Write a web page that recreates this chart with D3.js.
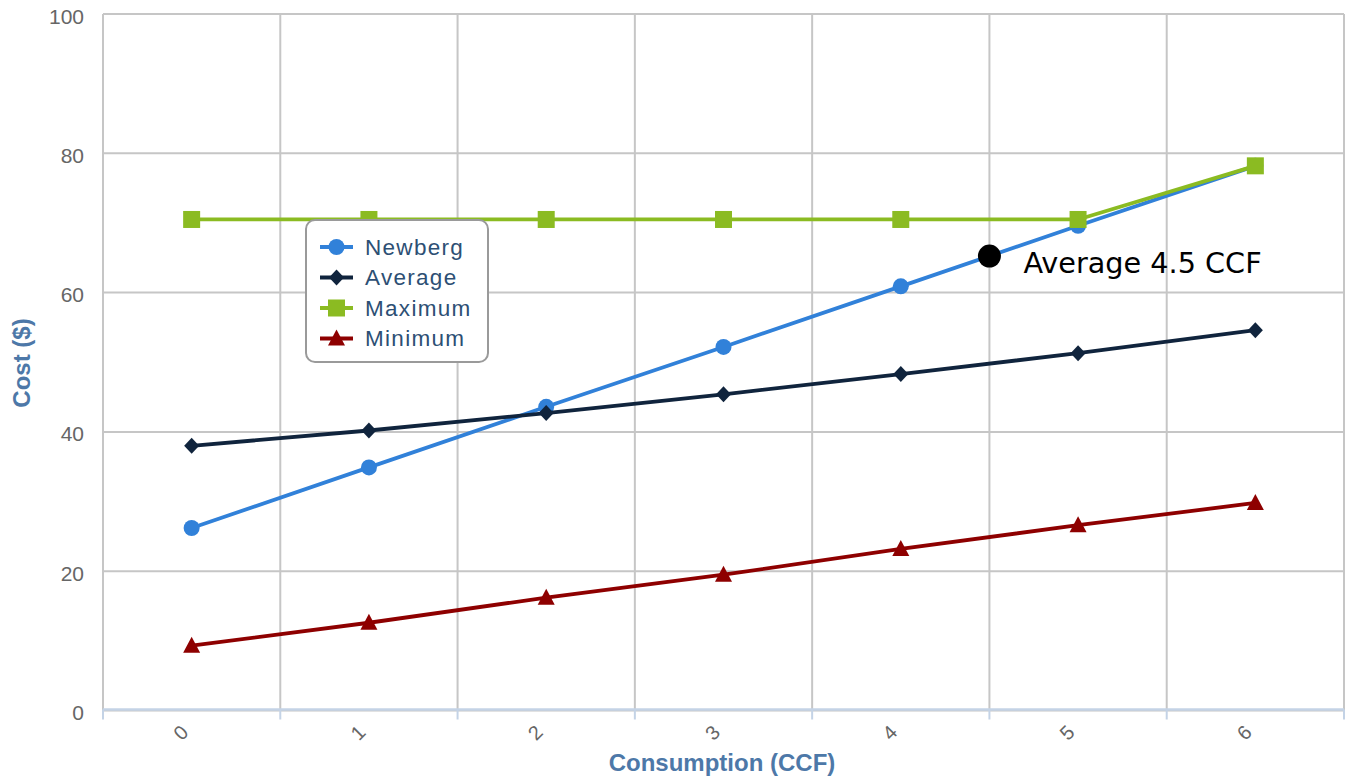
<!DOCTYPE html>
<html>
<head>
<meta charset="utf-8">
<script src="https://cdn.jsdelivr.net/npm/d3@7"></script>
<style>
  html, body { margin: 0; padding: 0; background: #fff; }
  svg { display: block; }
</style>
</head>
<body>
<svg id="chart" width="1350" height="780"></svg>
<script>
// Monthly water bill by consumption (hundreds of cubic feet)
const consumption = [0, 1, 2, 3, 4, 5, 6];
const newberg = [26.2, 34.9, 43.6, 52.2, 60.9, 69.6, 78.2];
const average = [38.0, 40.2, 42.7, 45.4, 48.3, 51.3, 54.6];
const maximum = [70.5, 70.5, 70.5, 70.5, 70.5, 70.5, 78.2];
const minimum = [9.3, 12.6, 16.2, 19.5, 23.2, 26.6, 29.8];
const yTicks = [0, 20, 40, 60, 80, 100];
const seriesNames = ["Newberg", "Average", "Maximum", "Minimum"];
const seriesColors = ["#3181d9", "#10243d", "#8bbb22", "#8e0000"];
const seriesShapes = ["circle", "diamond", "square", "triangle"];
const avgUsage = 4.5;
const avgUsageLabel = "Average 4.5 CCF";

const svg = d3.select("#chart");
const plotLeft = 103, plotRight = 1344, plotTop = 14, plotBottom = 710.5;

const x = d3.scaleLinear().domain([-0.5, 6.5]).range([plotLeft, plotRight]);
const y = d3.scaleLinear().domain([0, 100]).range([plotBottom, plotTop]);

// grid
const grid = svg.append("g").attr("stroke", "#c6c6c6").attr("stroke-width", 2);
yTicks.forEach(t => {
  grid.append("line").attr("x1", plotLeft).attr("x2", plotRight).attr("y1", y(t)).attr("y2", y(t));
});
d3.range(-0.5, 7, 1).forEach(b => {
  grid.append("line").attr("x1", x(b)).attr("x2", x(b)).attr("y1", plotTop).attr("y2", plotBottom);
});

// bottom axis: ticks at band edges, labels at band centres
const xAxis = svg.append("g");
xAxis.append("line").attr("x1", plotLeft).attr("x2", plotRight)
  .attr("y1", plotBottom - 1).attr("y2", plotBottom - 1)
  .attr("stroke", "#c4d3e6").attr("stroke-width", 2.5);
d3.range(-0.5, 7, 1).forEach(b => {
  xAxis.append("line").attr("x1", x(b)).attr("x2", x(b))
    .attr("y1", plotBottom - 1).attr("y2", plotBottom + 9)
    .attr("stroke", "#c4d3e6").attr("stroke-width", 2);
});
xAxis.selectAll("text.xt").data(consumption).enter().append("text")
  .attr("class", "xt")
  .attr("transform", d => `translate(${x(d) - 11},${plotBottom + 22}) rotate(-45)`)
  .attr("text-anchor", "middle")
  .attr("dominant-baseline", "central")
  .attr("font-family", "Liberation Sans, Arial, sans-serif")
  .attr("font-size", 20)
  .attr("fill", "#666")
  .text(d => d);

// left axis labels
svg.append("g").selectAll("text").data(yTicks).enter().append("text")
  .attr("x", 84).attr("y", d => y(d) + 2)
  .attr("text-anchor", "end")
  .attr("dominant-baseline", "central")
  .attr("font-family", "Liberation Sans, Arial, sans-serif")
  .attr("font-size", 21)
  .attr("fill", "#666")
  .text(d => d);

// axis titles
svg.append("text")
  .attr("x", 722).attr("y", 771)
  .attr("text-anchor", "middle")
  .attr("font-family", "Liberation Sans, Arial, sans-serif")
  .attr("font-weight", "bold").attr("font-size", 24)
  .attr("fill", "#4d78a8")
  .text("Consumption (CCF)");
svg.append("text")
  .attr("transform", "translate(30,363) rotate(-90)")
  .attr("text-anchor", "middle")
  .attr("font-family", "Liberation Sans, Arial, sans-serif")
  .attr("font-weight", "bold").attr("font-size", 24)
  .attr("fill", "#4d78a8")
  .text("Cost ($)");

// markers
function drawMarker(g, shape, cx, cy, color) {
  if (shape === "circle") {
    g.append("circle").attr("cx", cx).attr("cy", cy).attr("r", 8).attr("fill", color);
  } else if (shape === "diamond") {
    g.append("path").attr("d", `M${cx},${cy - 8}L${cx + 7.5},${cy}L${cx},${cy + 8}L${cx - 7.5},${cy}Z`).attr("fill", color);
  } else if (shape === "square") {
    g.append("rect").attr("x", cx - 8.5).attr("y", cy - 8.5).attr("width", 17).attr("height", 17).attr("fill", color);
  } else {
    g.append("path").attr("d", `M${cx},${cy - 9}L${cx + 8.5},${cy + 7}L${cx - 8.5},${cy + 7}Z`).attr("fill", color);
  }
}

const seriesValues = [newberg, average, maximum, minimum];
const line = d3.line().x((d, i) => x(consumption[i])).y(d => y(d));
seriesValues.forEach((vals, s) => {
  const g = svg.append("g");
  g.append("path").datum(vals).attr("d", line)
    .attr("fill", "none").attr("stroke", seriesColors[s]).attr("stroke-width", 3.8)
    .attr("stroke-linejoin", "round");
  vals.forEach((v, i) => drawMarker(g, seriesShapes[s], x(consumption[i]), y(v), seriesColors[s]));
});

// average-usage annotation on the Newberg curve
const i0 = Math.floor(avgUsage), frac = avgUsage - i0;
const avgCost = newberg[i0] + (newberg[i0 + 1] - newberg[i0]) * frac;
svg.append("circle").attr("cx", x(avgUsage)).attr("cy", y(avgCost)).attr("r", 11.5).attr("fill", "#000");
svg.append("text")
  .attr("x", x(avgUsage) + 34).attr("y", y(avgCost) + 17)
  .attr("font-family", "DejaVu Sans, sans-serif")
  .attr("font-size", 28.7)
  .attr("fill", "#000")
  .text(avgUsageLabel);

// legend
const legend = svg.append("g");
legend.append("rect").attr("x", 306).attr("y", 220).attr("width", 182).attr("height", 142)
  .attr("rx", 9).attr("fill", "#fff").attr("stroke", "#9a9a9a").attr("stroke-width", 2);
seriesNames.forEach((name, s) => {
  const cy = 247 + s * 30.5;
  legend.append("line").attr("x1", 320).attr("x2", 353).attr("y1", cy).attr("y2", cy)
    .attr("stroke", seriesColors[s]).attr("stroke-width", 3.8);
  drawMarker(legend, seriesShapes[s], 336.5, cy, seriesColors[s]);
  legend.append("text").attr("x", 365).attr("y", cy)
    .attr("dominant-baseline", "central")
    .attr("font-family", "Liberation Sans, Arial, sans-serif")
    .attr("font-size", 22.5).attr("letter-spacing", 1.3)
    .attr("fill", "#2d4f74")
    .text(name);
});
</script>
</body>
</html>
